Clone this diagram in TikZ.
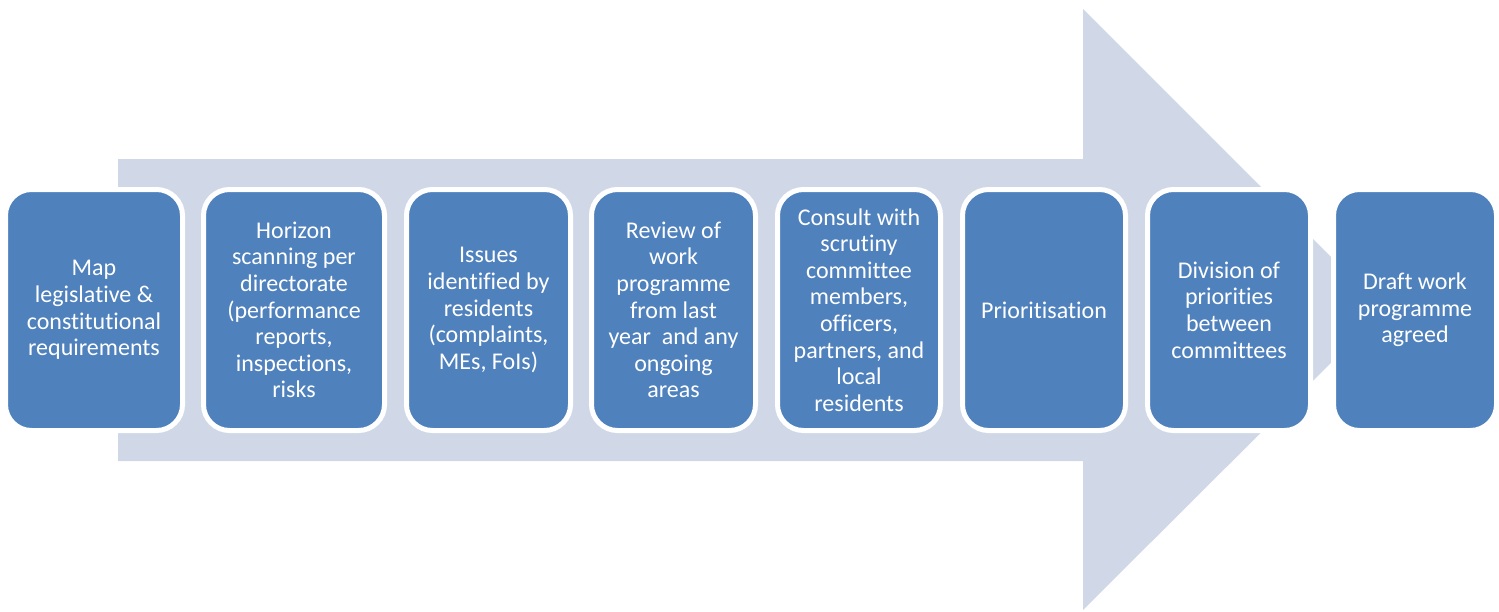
\documentclass[tikz,border=0pt]{standalone}
\usepackage{fontspec}
\setmainfont[Ligatures=CommonOff]{Carlito}
\definecolor{boxblue}{HTML}{4F81BD}
\definecolor{arrowfill}{HTML}{D0D8E8}
\begin{document}
\begin{tikzpicture}[x=1pt,y=-1pt,
  stage/.style={draw=white, line width=5pt, fill=boxblue, rounded corners=26pt,
    inner sep=0pt, minimum height=241pt, text=white, align=center,
    font=\fontsize{24}{26.6}\selectfont}]
\useasboundingbox (0,0) rectangle (1499,611);
% broad background arrow
\fill[arrowfill] (118,159) -- (1083,159) -- (1083,9) -- (1384,310)
  -- (1083,610) -- (1083,461) -- (118,461) -- cycle;
% process stages
\node[stage, minimum width=177pt] (s1) at (94,310)
  {Map\\legislative \&\\constitutional\\requirements};
\node[stage, minimum width=181pt] (s2) at (294,310)
  {Horizon\\scanning per\\directorate\\(performance\\reports,\\inspections,\\risks};
\node[stage, minimum width=164pt] (s3) at (488.5,310)
  {Issues\\identified by\\residents\\(complaints,\\MEs, FoIs)};
\node[stage, minimum width=164pt] (s4) at (673.5,310)
  {Review of\\work\\programme\\from last\\year~ and any\\ongoing\\areas};
\node[stage, minimum width=163pt] (s5) at (859,310)
  {Consult with\\scrutiny\\committee\\members,\\officers,\\partners, and\\local\\residents};
\node[stage, minimum width=163pt] (s6) at (1044,310)
  {Prioritisation};
\node[stage, minimum width=163pt] (s7) at (1229,310)
  {Division of\\priorities\\between\\committees};
\node[stage, minimum width=163pt] (s8) at (1415,310)
  {Draft work\\programme\\agreed};
\end{tikzpicture}
\end{document}
